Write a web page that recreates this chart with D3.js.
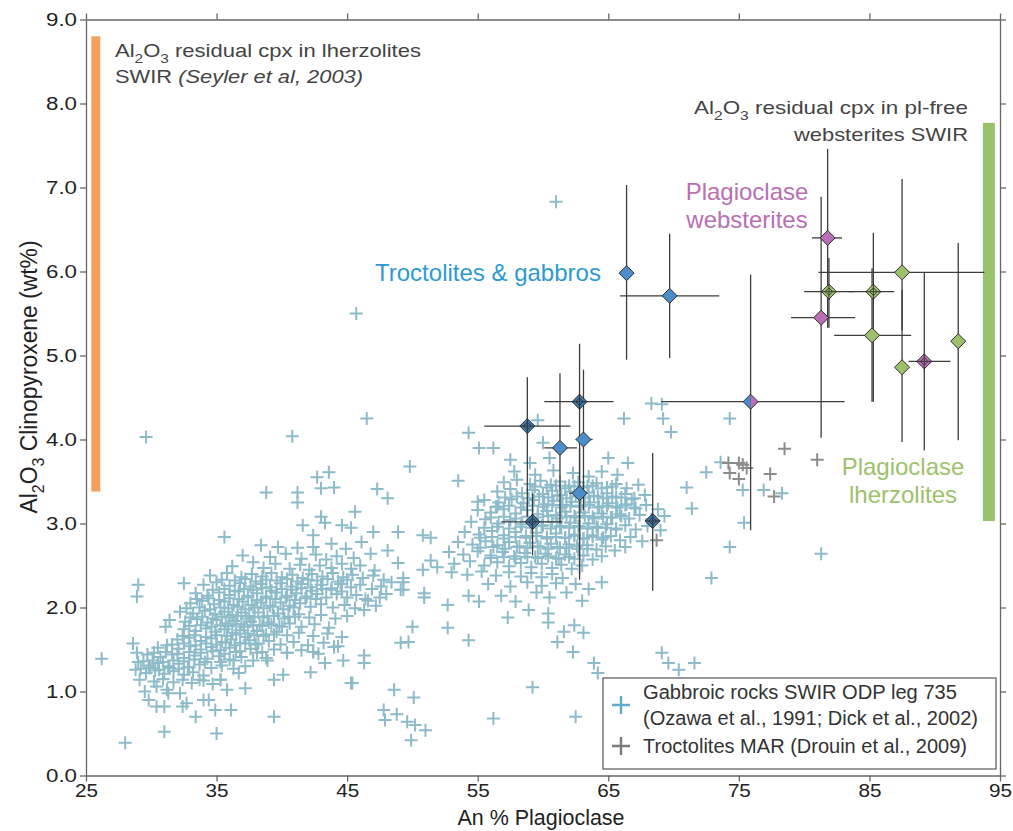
<!DOCTYPE html>
<html>
<head>
<meta charset="utf-8">
<title>Al2O3 cpx vs An% plagioclase</title>
<script src="https://cdnjs.cloudflare.com/ajax/libs/d3/7.8.5/d3.min.js"></script>
<style>
    body { margin: 0; background: #fff; font-family: "Liberation Sans", Arial, sans-serif; }
    .axis text { font-size: 18px; fill: #222; font-family: "Liberation Sans", Arial, sans-serif; }
    .axis path, .axis line { stroke: #666; stroke-width: 1.3; }
    .note { font-size: 19px; fill: #444; }
    .label { font-size: 24px; }
    .legend-text { font-size: 19.5px; fill: #333; }
</style>
</head>
<body>
<div id="chart"></div>
<script>
// Data
const xTicks = [25, 35, 45, 55, 65, 75, 85, 95];
const yTicks = [0, 1, 2, 3, 4, 5, 6, 7, 8, 9];

// Gabbroic rocks SWIR ODP leg 735 - lower An cluster
const gabbroA = [
    [35.6,2.84],[38.4,2.74],[39.7,2.72],[41.2,2.71],[42.4,2.72],[41.6,2.98],[42.4,2.86],[43.0,3.08],[43.3,3.01],[44.6,2.98],[45.3,2.95],[47.0,2.90],[48.9,2.90],[43.8,2.76],[44.9,2.70],[46.1,2.78],
    [37.0,2.62],[37.8,2.54],[39.1,2.60],[40.3,2.64],[41.5,2.58],[42.6,2.63],[43.4,2.57],[44.2,2.61],[45.5,2.59],[46.8,2.64],[48.1,2.68],
    [36.2,2.49],[38.6,2.47],[39.5,2.52],[40.6,2.46],[41.4,2.51],[42.1,2.45],[42.9,2.50],[43.8,2.47],[44.6,2.52],[45.3,2.46],[46.0,2.50],[47.1,2.44],[48.9,2.53],
    [34.5,2.38],[35.8,2.41],[36.9,2.36],[37.7,2.40],[38.5,2.37],[39.2,2.41],[40.0,2.36],[40.8,2.39],[41.6,2.35],[42.3,2.40],[43.1,2.37],[43.9,2.41],[44.7,2.36],[45.4,2.39],[46.2,2.35],[47.0,2.38],[47.8,2.33],[49.3,2.35],
    [32.5,2.29],[34.0,2.27],[35.0,2.30],[36.0,2.26],[36.8,2.29],[37.6,2.25],[38.4,2.28],[39.1,2.24],[39.9,2.29],[40.7,2.25],[41.5,2.28],[42.2,2.24],[43.0,2.27],[43.8,2.23],[44.5,2.28],[45.3,2.24],[46.0,2.27],[46.9,2.22],[47.6,2.25],[48.4,2.30],
    [33.4,2.17],[34.3,2.14],[35.2,2.18],[36.0,2.15],[36.7,2.19],[37.4,2.14],[38.1,2.17],[38.8,2.13],[39.6,2.18],[40.4,2.14],[41.1,2.17],[41.9,2.13],[42.7,2.16],[43.4,2.12],[44.2,2.16],[45.0,2.12],[45.7,2.15],[46.4,2.10],[47.5,2.12],[48.0,2.16],[49.1,2.21],
    [29.0,2.27],[28.9,2.13],[33.0,2.05],[33.9,2.08],[34.8,2.04],[35.6,2.07],[36.3,2.03],[37.0,2.07],[37.7,2.03],[38.4,2.06],[39.1,2.02],[39.9,2.06],[40.6,2.02],[41.4,2.05],[42.2,2.01],[43.0,2.04],[43.9,2.00],[44.8,2.03],[45.6,1.99],[46.6,2.08],[47.2,2.02],
    [32.2,1.95],[33.2,1.93],[34.1,1.96],[34.9,1.92],[35.6,1.95],[36.2,1.91],[36.9,1.94],[37.5,1.90],[38.2,1.94],[38.9,1.90],[39.7,1.93],[40.5,1.89],[41.3,1.92],[42.1,1.88],[43.0,1.91],[44.1,1.87],[45.0,1.90],[46.3,1.97],
    [31.4,1.85],[32.6,1.83],[33.5,1.86],[34.3,1.82],[35.0,1.85],[35.7,1.81],[36.3,1.84],[36.9,1.80],[37.6,1.83],[38.3,1.79],[39.0,1.82],[39.8,1.78],[40.6,1.81],[41.5,1.77],[42.5,1.80],[43.6,1.76],
    [31.1,1.77],[32.5,1.74],[33.4,1.72],[34.2,1.75],[34.9,1.71],[35.6,1.74],[36.2,1.70],[36.8,1.73],[37.4,1.69],[38.1,1.72],[38.8,1.68],[39.6,1.71],[40.4,1.67],[41.3,1.70],[42.4,1.66],[43.5,1.69],[44.6,1.65],
    [32.0,1.62],[32.9,1.64],[33.8,1.60],[34.6,1.63],[35.4,1.59],[36.1,1.62],[36.8,1.58],[37.5,1.61],[38.2,1.57],[39.0,1.60],[39.9,1.56],[40.9,1.59],[42.0,1.55],[43.2,1.58],[44.3,1.54],
    [30.5,1.52],[31.2,1.55],[32.1,1.51],[33.0,1.54],[33.8,1.50],[34.6,1.53],[35.3,1.49],[36.0,1.52],[36.8,1.48],[37.6,1.51],[38.5,1.47],[39.4,1.50],[40.4,1.46],[41.5,1.49],[42.8,1.45],[44.0,1.53],
    [29.7,1.44],[30.7,1.41],[31.6,1.44],[32.5,1.40],[33.3,1.43],[34.3,1.39],[35.2,1.42],[36.0,1.38],[36.9,1.41],[37.8,1.37],[38.8,1.40],[42.4,1.47],[44.7,1.37],
    [29.0,1.35],[29.8,1.31],[30.5,1.34],[31.3,1.30],[32.1,1.33],[32.9,1.29],[33.7,1.32],[34.6,1.28],[35.4,1.31],[36.3,1.27],[37.2,1.30],[38.1,1.46],[38.9,1.37],
    [28.8,1.26],[29.6,1.22],[30.3,1.25],[31.0,1.21],[31.7,1.24],[32.5,1.20],[33.2,1.23],[34.0,1.19],[35.3,1.35],[36.3,1.37],
    [29.1,1.14],[30.2,1.12],[30.9,1.15],[31.7,1.11],[32.4,1.14],[33.1,1.10],[34.0,1.13],[34.7,1.09],[35.3,1.14],[36.7,1.22],
    [30.4,1.06],[31.2,1.02],[31.3,0.98],[32.2,0.98],[33.7,1.14]
];

// denser core of the lower An cluster
const gabbroCoreA = [
    [35.4,2.33],[36.4,2.32],[37.2,2.34],[38.0,2.31],[38.8,2.33],[39.6,2.32],[40.4,2.34],[41.2,2.31],[42.0,2.33],[42.7,2.32],[43.5,2.34],[44.3,2.31],[45.0,2.33],
    [34.7,2.21],[35.6,2.22],[36.4,2.20],[37.1,2.22],[37.8,2.21],[38.5,2.23],[39.2,2.20],[40.0,2.22],[40.8,2.21],[41.5,2.23],[42.3,2.20],[43.1,2.22],[43.8,2.21],[44.6,2.19],
    [33.5,2.10],[34.4,2.11],[35.2,2.09],[36.0,2.11],[36.7,2.10],[37.4,2.12],[38.1,2.09],[38.8,2.11],[39.5,2.10],[40.3,2.12],[41.0,2.09],[41.8,2.11],[42.6,2.10],
    [32.7,1.99],[33.7,2.00],[34.5,1.98],[35.3,2.00],[35.9,1.99],[36.6,2.01],[37.2,1.98],[37.9,2.00],[38.6,1.99],[39.3,2.01],[40.1,1.98],[40.9,2.00],
    [33.0,1.88],[33.9,1.89],[34.7,1.87],[35.4,1.89],[36.0,1.88],[36.6,1.90],[37.3,1.87],[37.9,1.89],[38.6,1.88],[39.4,1.90],[40.2,1.87],[41.0,1.89],
    [32.9,1.78],[33.8,1.79],[34.6,1.77],[35.3,1.79],[35.9,1.78],[36.5,1.80],[37.1,1.77],[37.8,1.79],[38.5,1.78],[39.2,1.80],[40.0,1.77],
    [32.4,1.66],[33.3,1.67],[34.2,1.65],[35.0,1.67],[35.8,1.66],[36.5,1.68],[37.2,1.65],[37.9,1.67],[38.6,1.66],[39.4,1.68],
    [31.6,1.56],[32.5,1.57],[33.4,1.55],[34.2,1.57],[35.0,1.56],[35.7,1.58],[36.4,1.55],[37.2,1.57],[38.0,1.56],
    [30.2,1.46],[31.1,1.47],[32.0,1.45],[32.9,1.47],[33.8,1.46],[34.7,1.48],[35.6,1.45],[36.5,1.47],
    [29.4,1.36],[30.1,1.37],[30.9,1.35],[31.7,1.37],[32.5,1.36],[33.3,1.38],[34.1,1.35],
    [29.2,1.27],[29.9,1.28],[30.6,1.26],[31.4,1.28],[32.1,1.27],[32.8,1.29]
];

// Gabbroic rocks SWIR ODP leg 735 - higher An cluster
const gabbroB = [
    [55.1,3.90],[56.2,3.90],[60.0,3.96],[57.5,3.76],[59.0,3.72],[60.5,3.78],[65.0,3.78],[66.5,3.72],
    [57.8,3.62],[59.4,3.58],[60.8,3.63],[62.3,3.60],[63.5,3.56],[64.5,3.62],[65.7,3.58],
    [57.0,3.49],[58.0,3.52],[59.0,3.47],[59.8,3.51],[60.6,3.46],[61.3,3.50],[62.0,3.45],[62.7,3.49],[63.4,3.44],[64.1,3.48],[64.9,3.43],[65.6,3.47],[66.4,3.42],[67.3,3.46],
    [56.5,3.38],[57.5,3.41],[58.4,3.36],[59.2,3.40],[60.0,3.35],[60.7,3.39],[61.4,3.34],[62.1,3.38],[62.8,3.33],[63.5,3.37],[64.2,3.32],[64.9,3.36],[65.6,3.31],[66.3,3.35],[67.0,3.30],[67.8,3.34],
    [55.5,3.28],[56.6,3.25],[57.6,3.29],[58.5,3.24],[59.3,3.28],[60.1,3.23],[60.8,3.27],[61.5,3.22],[62.2,3.26],[62.9,3.21],[63.6,3.25],[64.3,3.20],[65.0,3.24],[65.7,3.19],[66.4,3.23],[67.1,3.18],[67.9,3.22],[68.8,3.17],
    [55.0,3.16],[56.0,3.13],[57.0,3.17],[57.9,3.12],[58.8,3.16],[59.6,3.11],[60.3,3.15],[61.0,3.10],[61.7,3.14],[62.4,3.09],[63.1,3.13],[63.8,3.08],[64.5,3.12],[65.2,3.07],[65.9,3.11],[66.6,3.06],[67.4,3.10],[68.3,3.05],[69.3,3.09],
    [54.5,3.02],[55.6,3.05],[56.6,3.00],[57.5,3.04],[58.4,2.99],[59.2,3.03],[60.0,2.98],[60.7,3.02],[61.4,2.97],[62.1,3.01],[62.8,2.96],[63.5,3.00],[64.2,2.95],[64.9,2.99],[65.6,2.94],[66.3,2.98],[67.1,2.93],[68.0,2.97],[69.0,2.92],
    [54.0,2.90],[55.1,2.87],[56.1,2.91],[57.0,2.86],[57.9,2.90],[58.7,2.85],[59.5,2.89],[60.3,2.84],[61.0,2.88],[61.7,2.83],[62.4,2.87],[63.1,2.82],[63.8,2.86],[64.5,2.81],[65.2,2.85],[65.9,2.80],[66.7,2.84],[67.6,2.79],
    [53.5,2.78],[54.6,2.75],[55.6,2.79],[56.5,2.74],[57.4,2.78],[58.2,2.73],[59.0,2.77],[59.8,2.72],[60.6,2.76],[61.3,2.71],[62.0,2.75],[62.7,2.70],[63.4,2.74],[64.1,2.69],[64.8,2.73],[65.5,2.68],[66.3,2.72],
    [52.8,2.66],[53.9,2.63],[55.0,2.67],[56.0,2.62],[56.9,2.66],[57.8,2.61],[58.6,2.65],[59.4,2.60],[60.2,2.64],[61.0,2.59],[61.7,2.63],[62.4,2.58],[63.1,2.62],[63.8,2.57],[64.5,2.61],
    [51.4,2.56],[53.2,2.52],[54.4,2.55],[55.5,2.50],[56.5,2.54],[57.4,2.49],[58.3,2.53],[59.1,2.48],[59.9,2.52],[60.7,2.47],[61.4,2.51],[62.2,2.46],[63.0,2.50],
    [50.8,2.45],[51.9,2.48],[53.0,2.42],[54.2,2.39],[55.3,2.43],[56.4,2.38],[57.4,2.42],[58.3,2.37],[59.1,2.41],[59.9,2.36],[60.7,2.40],[61.5,2.35],
    [55.8,2.28],[57.5,2.25],[58.8,2.30],[59.9,2.26],[61.0,2.29],[62.5,2.28],[63.5,2.22],[64.5,2.30],[61.8,2.18],[63.0,2.08],
    [56.8,2.14],[57.9,2.07],[58.9,1.97],[59.5,2.18],[60.5,2.12]
];

// denser core of the higher An cluster
const gabbroCoreB = [
    [59.4,3.44],[60.3,3.43],[61.0,3.45],[61.7,3.42],[62.4,3.44],[63.1,3.43],[63.8,3.45],[64.5,3.42],[65.3,3.44],
    [57.1,3.31],[58.0,3.32],[58.9,3.30],[59.7,3.32],[60.4,3.31],[61.1,3.33],[61.8,3.30],[62.5,3.32],[63.2,3.31],[63.9,3.33],[64.6,3.30],[65.3,3.32],[66.0,3.31],[66.8,3.29],
    [56.5,3.20],[57.4,3.21],[58.3,3.19],[59.2,3.21],[60.0,3.20],[60.7,3.22],[61.4,3.19],[62.1,3.21],[62.8,3.20],[63.5,3.22],[64.2,3.19],[64.9,3.21],[65.6,3.20],[66.3,3.22],[67.0,3.19],
    [56.0,3.07],[57.0,3.08],[57.9,3.06],[58.8,3.08],[59.6,3.07],[60.4,3.09],[61.1,3.06],[61.8,3.08],[62.5,3.07],[63.2,3.09],[63.9,3.06],[64.6,3.08],[65.3,3.07],[66.0,3.09],
    [55.5,2.95],[56.5,2.96],[57.4,2.94],[58.3,2.96],[59.1,2.95],[59.9,2.97],[60.6,2.94],[61.3,2.96],[62.0,2.95],[62.7,2.97],[63.4,2.94],[64.1,2.96],[64.8,2.95],[65.6,2.93],
    [55.2,2.83],[56.1,2.84],[57.0,2.82],[57.9,2.84],[58.7,2.83],[59.5,2.85],[60.3,2.82],[61.0,2.84],[61.7,2.83],[62.4,2.85],[63.1,2.82],[63.8,2.84],[64.6,2.83],
    [55.2,2.71],[56.2,2.72],[57.1,2.70],[58.0,2.72],[58.8,2.71],[59.6,2.73],[60.4,2.70],[61.1,2.72],[61.8,2.71],[62.6,2.73],[63.4,2.70],
    [56.0,2.59],[57.0,2.60],[57.9,2.58],[58.8,2.60],[59.6,2.59],[60.4,2.61],[61.2,2.58],[62.0,2.60]
];

// Gabbroic rocks SWIR - scattered points
const gabbroOut = [
    [26.2,1.39],[28.0,0.39],[29.6,4.03],[40.8,4.04],[46.5,4.25],[45.7,5.50],[61.0,6.83],
    [49.8,3.68],[38.8,3.37],[41.2,3.37],[41.2,3.25],[42.7,3.55],[43.6,3.61],[43.0,3.42],[44.0,3.43],[47.3,3.41],[48.1,3.30],[45.6,3.14],
    [54.3,4.08],[53.5,3.51],[59.6,4.23],[55.0,3.26],[56.4,3.20],
    [68.3,4.43],[69.1,4.42],[69.2,4.25],[69.8,4.09],[66.2,4.25],[74.3,4.25],[72.5,3.61],[73.6,3.73],[71.0,3.43],[71.4,3.18],
    [75.3,3.40],[75.4,3.01],[76.9,3.40],[78.3,3.36],[74.3,2.72],[81.3,2.64],[72.9,2.35],
    [50.8,2.86],[51.4,2.83],[50.9,2.17],[50.9,2.12],[52.7,2.03],[54.3,2.14],[55.1,2.07],[57.3,1.88],
    [60.4,1.93],[60.4,1.82],[61.6,1.71],[62.4,1.79],[63.1,1.70],[61.1,1.59],[62.3,1.47],[63.9,1.34],[64.2,1.22],
    [69.1,1.46],[69.6,1.34],[70.4,1.26],[71.6,1.34],
    [50.0,1.77],[52.7,1.76],[54.3,1.61],[49.7,1.59],[49.1,1.58],[59.2,1.05],[50.1,0.93],[56.2,0.68],[62.5,0.70],
    [49.6,0.64],[50.2,0.60],[49.3,2.30],[49.3,2.21],
    [39.4,0.70],[35.0,0.50],[31.0,0.52],[45.3,1.10],[47.8,0.78],[47.9,0.66],[48.6,1.02],[48.8,0.73],[49.9,0.42],[51.0,0.54],
    [46.3,1.43],[46.3,1.34],[45.4,1.10],
    [28.6,1.57],[28.9,1.46],[29.5,1.00],[29.8,0.90],[30.4,0.82],[31.0,0.82],[32.4,0.82],[32.7,0.86],[33.4,0.70],
    [34.0,0.90],[34.4,0.90],[34.9,0.78],[36.1,0.78],[35.8,1.02],[37.2,1.04],[35.3,1.14],[39.4,1.14],[40.1,1.20],
    [42.2,1.23],[43.3,1.34],[44.0,1.53],[42.4,1.47],[40.4,1.46]
];

// Troctolites MAR (Drouin et al., 2009)
const marTroctolites = [
    [74.2,3.72],[75.0,3.72],[75.3,3.70],[75.6,3.66],[74.3,3.60],[75.0,3.53],[77.4,3.59],[77.7,3.32],[78.5,3.89],[81.0,3.76],[68.7,2.80]
];

// [An, Al2O3, An min, An max, Al2O3 min, Al2O3 max, hatched]
const troctGabbro = [
    [66.4, 5.98, null, null, 4.95, 7.03, 0],
    [69.7, 5.71, 65.9, 73.5, 4.97, 6.45, 0],
    [58.8, 4.16, 55.5, 62.1, 3.08, 4.74, 1],
    [61.3, 3.90, 60.1, 62.6, 3.00, 4.79, 0],
    [62.8, 4.45, 60.1, 65.4, 2.33, 5.14, 1],
    [63.1, 4.00, 62.5, 63.8, 3.16, 4.83, 0],
    [62.8, 3.36, 62.0, 63.4, 2.40, 3.90, 0],
    [59.2, 3.02, 56.8, 61.5, 2.62, 3.36, 1],
    [68.4, 3.03, null, null, 2.20, 3.84, 1]
];
const plagWebsterites = [
    [81.8, 6.40, 80.6, 82.9, 5.33, 7.46, 0],
    [81.3, 5.45, 79.0, 83.9, 4.02, 6.89, 0],
    [89.2, 4.93, 88.0, 91.2, 3.87, 5.99, 1]
];
// mixed troctolite/websterite symbol
const mixedPoint = [75.9, 4.45, 69.05, 83.1, 2.92, 5.96, 0];
const plagLherzolites = [
    [87.5, 5.99, 81.1, 93.8, 5.30, 7.10, 0],
    [81.9, 5.76, 80.0, 83.8, 5.33, 6.16, 1],
    [85.3, 5.76, 83.4, 86.9, 4.45, 6.46, 1],
    [85.2, 5.24, 82.3, 88.2, 4.45, 6.04, 0],
    [87.5, 4.86, null, null, 3.97, 5.78, 0],
    [91.8, 5.17, null, null, 3.99, 6.34, 0]
];

// residual cpx ranges [An position, min, max]
const lherzRange = [25.75, 3.38, 8.80];
const webstRange = [94.15, 3.03, 7.77];

// Setup
const W = 1013, H = 831;
const margin = { top: 19.5, right: 13, bottom: 55.5, left: 86 };

const svg = d3.select('#chart').append('svg')
    .attr('width', W).attr('height', H);

const x = d3.scaleLinear().domain([25, 95]).range([margin.left, W - margin.right]);
const y = d3.scaleLinear().domain([0, 9]).range([H - margin.bottom, margin.top]);

const colors = {
    gabbro: '#8dbbca',
    mar: '#8c8c8c',
    blue: '#4a8dca',
    blueDark: '#3f77ab',
    purple: '#b86fb3',
    green: '#9dc16b',
    orange: '#f5a15d',
    greenBar: '#99c36a'
};

// Axes
svg.append('g').attr('class', 'axis x-axis')
    .attr('transform', `translate(0,${y(0)})`)
    .call(d3.axisBottom(x).tickValues(xTicks).tickFormat(d3.format('d')).tickSizeOuter(0));
svg.append('g').attr('class', 'axis y-axis')
    .attr('transform', `translate(${x(25)},0)`)
    .call(d3.axisLeft(y).tickValues(yTicks).tickFormat(d3.format('.1f')).tickSizeOuter(0));
svg.append('g').attr('class', 'axis')
    .attr('transform', `translate(0,${y(9)})`)
    .call(d3.axisTop(x).tickValues(xTicks).tickFormat('').tickSizeOuter(0));
svg.append('g').attr('class', 'axis')
    .attr('transform', `translate(${x(95)},0)`)
    .call(d3.axisRight(y).tickValues(yTicks).tickFormat('').tickSizeOuter(0));

// tick labels are a bit wider in the original
svg.selectAll('.x-axis .tick text').attr('textLength', 23).attr('lengthAdjust', 'spacingAndGlyphs');
svg.selectAll('.y-axis .tick text').attr('textLength', 31).attr('lengthAdjust', 'spacingAndGlyphs');

// Range bars
svg.append('rect')
    .attr('x', x(lherzRange[0]) - 4.5).attr('width', 9)
    .attr('y', y(lherzRange[2])).attr('height', y(lherzRange[1]) - y(lherzRange[2]))
    .attr('fill', colors.orange);
svg.append('rect')
    .attr('x', x(webstRange[0]) - 6).attr('width', 12)
    .attr('y', y(webstRange[2])).attr('height', y(webstRange[1]) - y(webstRange[2]))
    .attr('fill', colors.greenBar);

// Crosses
const crossPath = 'M-6.5,0H6.5M0,-6.5V6.5';
function drawCrosses(data, color) {
    svg.append('g').selectAll('path')
        .data(data).enter().append('path')
        .attr('d', crossPath)
        .attr('transform', d => `translate(${x(d[0])},${y(d[1])})`)
        .attr('stroke', color).attr('stroke-width', 2).attr('fill', 'none');
}
drawCrosses(gabbroA, colors.gabbro);
drawCrosses(gabbroCoreA, colors.gabbro);
drawCrosses(gabbroB, colors.gabbro);
drawCrosses(gabbroCoreB, colors.gabbro);
drawCrosses(gabbroOut, colors.gabbro);
drawCrosses(marTroctolites, colors.mar);

// Error bars
const allDiamonds = troctGabbro.concat(plagWebsterites, plagLherzolites, [mixedPoint]);
const eb = svg.append('g').attr('stroke', '#3d3d3d').attr('stroke-width', 1.3);
allDiamonds.forEach(d => {
    if (d[2] !== null) {
        eb.append('line').attr('x1', x(d[2])).attr('x2', x(d[3])).attr('y1', y(d[1])).attr('y2', y(d[1]));
    }
    eb.append('line').attr('x1', x(d[0])).attr('x2', x(d[0])).attr('y1', y(d[4])).attr('y2', y(d[5]));
});

// Diamonds
const r = 7.5;
function drawDiamonds(data, fill, hatchFill) {
    const g = svg.append('g');
    data.forEach(d => {
        const cx = x(d[0]), cy = y(d[1]);
        const dg = g.append('g').attr('transform', `translate(${cx},${cy})`);
        dg.append('path')
            .attr('d', `M0,${-r}L${r},0L0,${r}L${-r},0Z`)
            .attr('fill', d[6] ? hatchFill : fill)
            .attr('stroke', '#2e2e2e').attr('stroke-width', 1);
        if (d[6]) {
            const h = r / 2;
            dg.append('path')
                .attr('d', `M0,${-h}L${h},0L0,${h}L${-h},0Z M${-r},0H${r} M0,${-r}V${r}`)
                .attr('fill', 'none').attr('stroke', '#2e2e2e').attr('stroke-width', 0.9);
        }
    });
}
drawDiamonds(troctGabbro, colors.blue, colors.blueDark);
drawDiamonds(plagWebsterites, colors.purple, colors.purple);
drawDiamonds(plagLherzolites, colors.green, colors.green);

// half blue / half purple diamond
const mx = x(mixedPoint[0]), my = y(mixedPoint[1]);
const mg = svg.append('g').attr('transform', `translate(${mx},${my})`);
mg.append('path').attr('d', `M0,${-r}L0,${r}L${-r},0Z`).attr('fill', colors.blue);
mg.append('path').attr('d', `M0,${-r}L${r},0L0,${r}Z`).attr('fill', colors.purple);
mg.append('path').attr('d', `M0,${-r}L${r},0L0,${r}L${-r},0Z`)
    .attr('fill', 'none').attr('stroke', '#2e2e2e').attr('stroke-width', 1);

// Text helper for Al2O3 with subscripts
function alo(t, size) {
    t.append('tspan').text('Al');
    t.append('tspan').attr('dy', size * 0.3).attr('font-size', size * 0.7).text('2');
    t.append('tspan').attr('dy', -size * 0.3).text('O');
    t.append('tspan').attr('dy', size * 0.3).attr('font-size', size * 0.7).text('3');
    return t;
}
function stretch(sel, len) {
    return sel.attr('textLength', len).attr('lengthAdjust', 'spacingAndGlyphs');
}

// Annotations
let t = svg.append('text').attr('class', 'note').attr('x', 115).attr('y', 57);
alo(t, 19);
t.append('tspan').attr('dy', -19 * 0.3).text(' residual cpx in lherzolites');
stretch(t, 306);
t = svg.append('text').attr('class', 'note').attr('x', 115).attr('y', 83);
t.append('tspan').text('SWIR ');
t.append('tspan').attr('font-style', 'italic').text('(Seyler et al, 2003)');
stretch(t, 248);

t = svg.append('text').attr('class', 'note').attr('x', 968).attr('y', 114).attr('text-anchor', 'end');
alo(t, 19);
t.append('tspan').attr('dy', -19 * 0.3).text(' residual cpx in pl-free');
stretch(t, 274);
stretch(svg.append('text').attr('class', 'note').attr('x', 968).attr('y', 141).attr('text-anchor', 'end')
    .text('websterites SWIR'), 174);

svg.append('text').attr('class', 'label').attr('x', 747).attr('y', 200).attr('text-anchor', 'middle')
    .attr('fill', colors.purple).text('Plagioclase');
svg.append('text').attr('class', 'label').attr('x', 747).attr('y', 228).attr('text-anchor', 'middle')
    .attr('fill', colors.purple).text('websterites');

svg.append('text').attr('class', 'label').attr('x', 375).attr('y', 281)
    .attr('fill', '#2d9ad3').text('Troctolites & gabbros');

svg.append('text').attr('class', 'label').attr('x', 903).attr('y', 475).attr('text-anchor', 'middle')
    .attr('fill', colors.green).text('Plagioclase');
svg.append('text').attr('class', 'label').attr('x', 903).attr('y', 503).attr('text-anchor', 'middle')
    .attr('fill', colors.green).text('lherzolites');

// Axis titles
stretch(svg.append('text').attr('x', 541).attr('y', 825).attr('text-anchor', 'middle')
    .attr('font-size', 22).attr('fill', '#222').text('An % Plagioclase'), 167);
t = svg.append('text').attr('transform', 'translate(37,377) rotate(-90)')
    .attr('text-anchor', 'middle').attr('font-size', 23).attr('fill', '#222');
alo(t, 23);
t.append('tspan').attr('dy', -23 * 0.3).text(' Clinopyroxene (wt%)');
stretch(t, 273);

// Legend
const lg = svg.append('g');
lg.append('rect').attr('x', 603).attr('y', 678).attr('width', 393).attr('height', 91)
    .attr('fill', '#fff').attr('stroke', '#555').attr('stroke-width', 1.2);
lg.append('path').attr('d', 'M-9,0H9M0,-9V9').attr('transform', 'translate(621,705)')
    .attr('stroke', '#5fa9c9').attr('stroke-width', 2.4);
lg.append('path').attr('d', 'M-9,0H9M0,-9V9').attr('transform', 'translate(621,746)')
    .attr('stroke', '#7a7a7a').attr('stroke-width', 2.4);
stretch(lg.append('text').attr('class', 'legend-text').attr('x', 643).attr('y', 699).text('Gabbroic rocks SWIR ODP leg 735'), 314);
stretch(lg.append('text').attr('class', 'legend-text').attr('x', 643).attr('y', 725).text('(Ozawa et al., 1991; Dick et al., 2002)'), 335);
stretch(lg.append('text').attr('class', 'legend-text').attr('x', 643).attr('y', 753).text('Troctolites MAR (Drouin et al., 2009)'), 324);
</script>
</body>
</html>
